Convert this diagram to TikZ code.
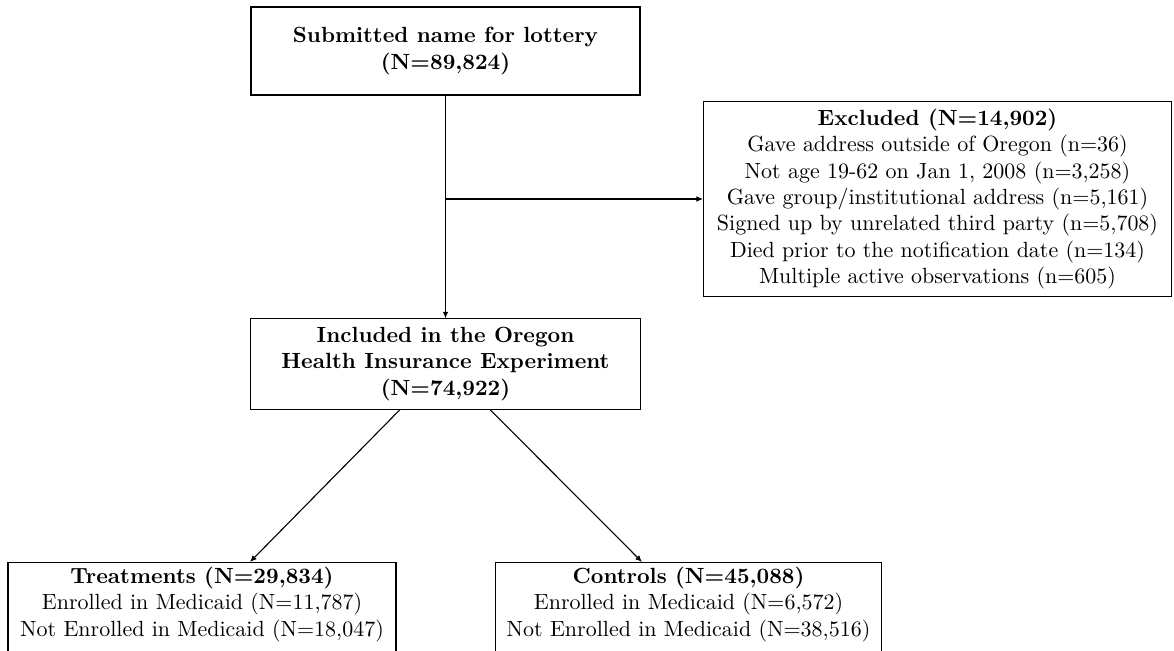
\documentclass[tikz,border=0pt]{standalone}
\usetikzlibrary{arrows.meta,calc}
\newcommand{\ctrline}[1]{\makebox[\linewidth][c]{#1}}
\begin{document}
\begin{tikzpicture}[x=0.455pt,y=-0.455pt,
  box/.style={draw, line width=0.5pt, align=center, inner sep=2pt},
  arr/.style={-{Latex[length=3pt,width=2.6pt]}, line width=0.5pt}]
\useasboundingbox (0,0) rectangle (1174,651);
\clip (0,0) rectangle (1174,651);
\node[box, minimum width=177pt, minimum height=40pt] (top) at (445.5,51)
  {\textbf{Submitted name for lottery}\\\textbf{(N=89,824)}};
\node[box, minimum width=212.9pt, minimum height=88.7pt] (exc) at (937.5,199)
  {\textbf{Excluded (N=14,902)}\\
   Gave address outside of Oregon (n=36)\\
   Not age 19-62 on Jan 1, 2008 (n=3,258)\\
   Gave group/institutional address (n=5,161)\\
   Signed up by unrelated third party (n=5,708)\\
   Died prior to the notification date (n=134)\\
   Multiple active observations (n=605)};
\node[box, minimum width=177.4pt, minimum height=41pt] (mid) at (445.5,364)
  {\textbf{Included in the Oregon}\\\textbf{Health Insurance Experiment}\\\textbf{(N=74,922)}};
\node[box, anchor=north, inner xsep=0pt] (treat) at (202,562)
  {\parbox[t][46pt][t]{176.5pt}{\centering
   \ctrline{\textbf{Treatments (N=29,834)}}\\
   \ctrline{Enrolled in Medicaid (N=11,787)}\\
   \ctrline{Not Enrolled in Medicaid (N=18,047)}}};
\node[box, anchor=north, inner xsep=0pt] (ctrl) at (688.5,562)
  {\parbox[t][46pt][t]{176pt}{\centering
   \ctrline{\textbf{Controls (N=45,088)}}\\
   \ctrline{Enrolled in Medicaid (N=6,572)}\\
   \ctrline{Not Enrolled in Medicaid (N=38,516)}}};
\coordinate (br) at (top.south |- exc.west);
\draw[arr] (top.south) -- (mid.north);
\draw[arr] (br) -- (exc.west);
\draw[arr] ($(mid.south)+(-45.5,0)$) -- ($(treat.north)+(48,0)$);
\draw[arr] ($(mid.south)+(44.5,0)$) -- ($(ctrl.north)+(-46.5,0)$);
\end{tikzpicture}
\end{document}
